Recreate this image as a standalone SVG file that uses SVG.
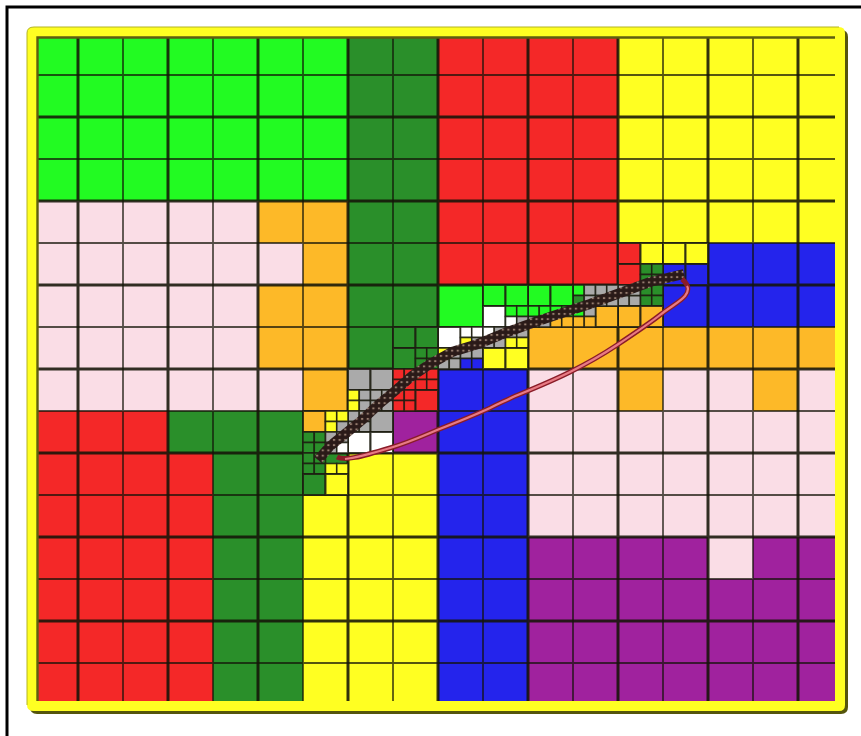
<svg xmlns="http://www.w3.org/2000/svg" width="861" height="736" viewBox="0 0 861 736">
<style>
.g{fill:#22fb22}.d{fill:#2a8f2a}.r{fill:#f42828}.y{fill:#ffff22}.k{fill:#fadde6}.o{fill:#fdb928}.b{fill:#2424ec}.p{fill:#a0229e}.w{fill:#fff}.e{fill:#aaa}
.a{width:22.5px;height:21px;stroke:#1c1c10;stroke-width:2;stroke-opacity:.85}
.s{width:11.25px;height:10.5px;stroke:#1c1c10;stroke-width:1.6;stroke-opacity:.85}
.thin{fill:none;stroke:#141408;stroke-width:1.8;stroke-opacity:.72}
.thick{fill:none;stroke:#141408;stroke-width:3;stroke-opacity:.88}
</style>
<defs>
<pattern id="fine" width="5.625" height="5.25" patternUnits="userSpaceOnUse" patternTransform="translate(303 411)">
<rect width="5.625" height="5.25" fill="#2a1a18"/>
<rect x="1.8" y="1.7" width="2.2" height="1.9" fill="#957c6e"/>
</pattern>
</defs>
<rect width="861" height="736" fill="#fff"/>
<path d="M7 736V7H861" fill="none" stroke="#000" stroke-width="3"/>
<g id="base">
<rect class="g" x="33" y="33" width="315" height="168"/>
<rect class="d" x="348" y="33" width="90" height="336"/>
<rect class="r" x="438" y="33" width="180" height="252"/>
<rect class="y" x="618" y="33" width="225" height="210"/>
<rect class="k" x="33" y="201" width="225" height="210"/>
<rect class="k" x="258" y="243" width="45" height="42"/>
<rect class="k" x="258" y="369" width="45" height="42"/>
<rect class="o" x="258" y="201" width="90" height="42"/>
<rect class="o" x="303" y="243" width="45" height="42"/>
<rect class="o" x="258" y="285" width="90" height="84"/>
<rect class="o" x="303" y="369" width="45" height="42"/>
<rect class="b" x="708" y="243" width="135" height="84"/>
<rect class="b" x="663" y="264" width="45" height="63"/>
<rect class="g" x="438" y="285" width="180" height="42"/>
<rect class="k" x="528" y="369" width="315" height="168"/>
<rect class="o" x="528" y="327" width="315" height="42"/>
<rect class="o" x="618" y="369" width="45" height="42"/>
<rect class="o" x="753" y="369" width="45" height="42"/>
<rect class="b" x="438" y="369" width="90" height="336"/>
<rect class="p" x="528" y="537" width="315" height="168"/>
<rect class="k" x="708" y="537" width="45" height="42"/>
<rect class="p" x="393" y="411" width="45" height="42"/>
<rect class="r" x="33" y="411" width="135" height="42"/>
<rect class="r" x="33" y="453" width="180" height="252"/>
<rect class="d" x="168" y="411" width="135" height="42"/>
<rect class="d" x="213" y="453" width="90" height="252"/>
<rect class="y" x="303" y="495" width="135" height="210"/>
<rect class="y" x="348" y="453" width="90" height="42"/>
<rect class="r" x="393" y="369" width="45" height="42"/>
<rect class="d" x="303" y="411" width="45" height="84"/>
<rect class="e" x="348" y="369" width="45" height="84"/>
<rect class="o" x="618" y="285" width="45" height="42"/>
<rect class="y" x="438" y="327" width="90" height="42"/>
</g>
<g id="grid">
<path class="thin" d="M123 33V705M213 33V705M303 33V705M393 33V705M483 33V705M573 33V705M663 33V705M753 33V705M33 75H843M33 159H843M33 243H843M33 327H843M33 411H843M33 495H843M33 579H843M33 663H843"/>
<path class="thick" d="M78 33V705M168 33V705M258 33V705M348 33V705M438 33V705M528 33V705M618 33V705M708 33V705M798 33V705M33 117H843M33 201H843M33 285H843M33 369H843M33 453H843M33 537H843M33 621H843"/>
</g>
<g id="refined">
<rect class="a r" x="618" y="243"/><rect class="a r" x="618" y="264"/>
<rect class="a y" x="640.5" y="243"/><rect class="a y" x="663" y="243"/><rect class="a y" x="685.5" y="243"/>
<rect class="a b" x="663" y="264"/><rect class="a b" x="685.5" y="264"/>
<rect class="s d" x="640.5" y="264"/><rect class="s d" x="651.75" y="264"/><rect class="s d" x="640.5" y="274.5"/><rect class="s d" x="651.75" y="274.5"/>
<rect class="s e" x="618" y="295.5"/><rect class="s e" x="629.25" y="295.5"/><rect class="s e" x="618" y="285"/><rect class="s e" x="629.25" y="285"/>
<rect class="s d" x="640.5" y="285"/><rect class="s d" x="651.75" y="285"/><rect class="s d" x="640.5" y="295.5"/><rect class="s d" x="651.75" y="295.5"/>
<rect class="a o" x="618" y="306"/><rect class="a o" x="640.5" y="306"/><rect class="a o" x="595.5" y="306"/>
<rect class="s g" x="573" y="285"/><rect class="s e" x="584.25" y="285"/><rect class="s d" x="573" y="295.5"/><rect class="s e" x="584.25" y="295.5"/>
<rect class="s e" x="595.5" y="285"/><rect class="s e" x="606.75" y="285"/><rect class="s e" x="595.5" y="295.5"/><rect class="s e" x="606.75" y="295.5"/>
<rect class="s g" x="573" y="306"/><rect class="s e" x="584.25" y="306"/><rect class="s o" x="573" y="316.5"/><rect class="s o" x="584.25" y="316.5"/>
<rect class="a g" x="528" y="285"/><rect class="a g" x="550.5" y="285"/>
<rect class="s g" x="528" y="306"/><rect class="s g" x="539.25" y="306"/><rect class="s e" x="528" y="316.5"/><rect class="s e" x="539.25" y="316.5"/>
<rect class="s g" x="550.5" y="306"/><rect class="s g" x="561.75" y="306"/><rect class="s o" x="550.5" y="316.5"/><rect class="s o" x="561.75" y="316.5"/>
<rect class="a g" x="483" y="285"/><rect class="a g" x="505.5" y="285"/><rect class="a w" x="483" y="306"/>
<rect class="s g" x="505.5" y="306"/><rect class="s g" x="516.75" y="306"/><rect class="s w" x="505.5" y="316.5"/><rect class="s e" x="516.75" y="316.5"/>
<rect class="a w" x="438" y="327"/>
<rect class="s w" x="460.5" y="327"/><rect class="s w" x="471.75" y="327"/><rect class="s y" x="460.5" y="337.5"/><rect class="s e" x="471.75" y="337.5"/>
<rect class="s w" x="483" y="327"/><rect class="s e" x="494.25" y="327"/><rect class="s e" x="483" y="337.5"/><rect class="s e" x="494.25" y="337.5"/>
<rect class="s e" x="505.5" y="327"/><rect class="s e" x="516.75" y="327"/><rect class="s y" x="505.5" y="337.5"/><rect class="s y" x="516.75" y="337.5"/>
<rect class="s y" x="438" y="348"/><rect class="s e" x="449.25" y="348"/><rect class="s e" x="438" y="358.5"/><rect class="s e" x="449.25" y="358.5"/>
<rect class="s e" x="460.5" y="348"/><rect class="s e" x="471.75" y="348"/><rect class="s b" x="460.5" y="358.5"/><rect class="s b" x="471.75" y="358.5"/>
<rect class="a y" x="483" y="348"/><rect class="a y" x="505.5" y="348"/>
<rect class="a d" x="393" y="327"/><rect class="a d" x="415.5" y="327"/><rect class="a d" x="393" y="348"/>
<rect class="s d" x="415.5" y="348"/><rect class="s d" x="426.75" y="348"/><rect class="s d" x="415.5" y="358.5"/><rect class="s d" x="426.75" y="358.5"/>
<rect class="a e" x="348" y="369"/><rect class="a e" x="370.5" y="369"/>
<rect class="s y" x="348" y="390"/><rect class="s e" x="359.25" y="390"/><rect class="s y" x="348" y="400.5"/><rect class="s e" x="359.25" y="400.5"/>
<rect class="s e" x="370.5" y="390"/><rect class="s e" x="381.75" y="390"/><rect class="s e" x="370.5" y="400.5"/><rect class="s e" x="381.75" y="400.5"/>
<rect class="s r" x="393" y="369"/><rect class="s r" x="404.25" y="369"/><rect class="s r" x="393" y="379.5"/><rect class="s r" x="404.25" y="379.5"/>
<rect class="s r" x="415.5" y="369"/><rect class="s r" x="426.75" y="369"/><rect class="s r" x="415.5" y="379.5"/><rect class="s r" x="426.75" y="379.5"/>
<rect class="s r" x="393" y="390"/><rect class="s r" x="404.25" y="390"/><rect class="s r" x="393" y="400.5"/><rect class="s r" x="404.25" y="400.5"/>
<rect class="a r" x="415.5" y="390"/>
<rect class="s e" x="348" y="411"/><rect class="s e" x="359.25" y="411"/><rect class="s e" x="348" y="421.5"/><rect class="s e" x="359.25" y="421.5"/>
<rect class="a e" x="370.5" y="411"/><rect class="a w" x="348" y="432"/><rect class="a w" x="370.5" y="432"/>
<rect class="a o" x="303" y="411"/>
<rect class="s y" x="325.5" y="411"/><rect class="s y" x="336.75" y="411"/><rect class="s y" x="325.5" y="421.5"/><rect class="s e" x="336.75" y="421.5"/>
<rect class="s d" x="303" y="432"/><rect class="s d" x="314.25" y="432"/><rect class="s d" x="303" y="442.5"/><rect class="s d" x="314.25" y="442.5"/>
<rect class="s e" x="325.5" y="432"/><rect class="s e" x="336.75" y="432"/><rect class="s e" x="325.5" y="442.5"/><rect class="s w" x="336.75" y="442.5"/>
<rect class="s d" x="303" y="453"/><rect class="s d" x="314.25" y="453"/><rect class="s d" x="303" y="463.5"/><rect class="s d" x="314.25" y="463.5"/>
<rect class="s y" x="325.5" y="463.5"/><rect class="s y" x="336.75" y="463.5"/>
<rect class="a d" x="303" y="474"/><rect class="a y" x="325.5" y="474"/>
</g>
<g id="mesh">
<path d="M318 460L330 446L345 434L362 420L378 405L396 390L412 376L430 364L452 352L478 344L505 333L535 322L565 312L590 304L620 293L650 282L684 274" fill="none" stroke="url(#fine)" stroke-width="10"/>
</g>
<g id="curve">
<path d="M337 457C345 461 360 457 390 448C410 442 425 435 437 430C455 423 475 415 490 408C500 403 505 401 513 397C530 390 550 382 570 372C590 362 605 353 617 345C632 335 650 323 660 315C670 307 680 302 685 296C689 291 690 286 682 279" fill="none" stroke="#8a1c28" stroke-width="5"/>
<path d="M345 459C355 458 370 454 390 448C410 442 425 435 437 430C455 423 475 415 490 408C500 403 505 401 513 397C530 390 550 382 570 372C590 362 605 353 617 345C632 335 650 323 660 315C670 307 680 302 685 296C688 292 689 289 687 286" fill="none" stroke="#e87a84" stroke-width="2.2"/>
</g>
<g id="frame">
<path fill-rule="evenodd" fill="#55550c" d="M37 30H841Q848 30 848 37V707Q848 714 841 714H37Q30 714 30 707V37Q30 30 37 30ZM38 38V701H835V38Z"/>
<path fill-rule="evenodd" class="y" d="M34 27H839Q845 27 845 33V705Q845 711 839 711H34Q27 711 27 705V33Q27 27 34 27ZM38 38V701H835V38Z"/>
<path d="M27 705V33Q27 27 34 27H839" fill="none" stroke="#b4b420" stroke-width="1"/>
<path d="M37.5 701V37.5H835" fill="none" stroke="#5e5e10" stroke-width="2.4"/>
</g>
</svg>
